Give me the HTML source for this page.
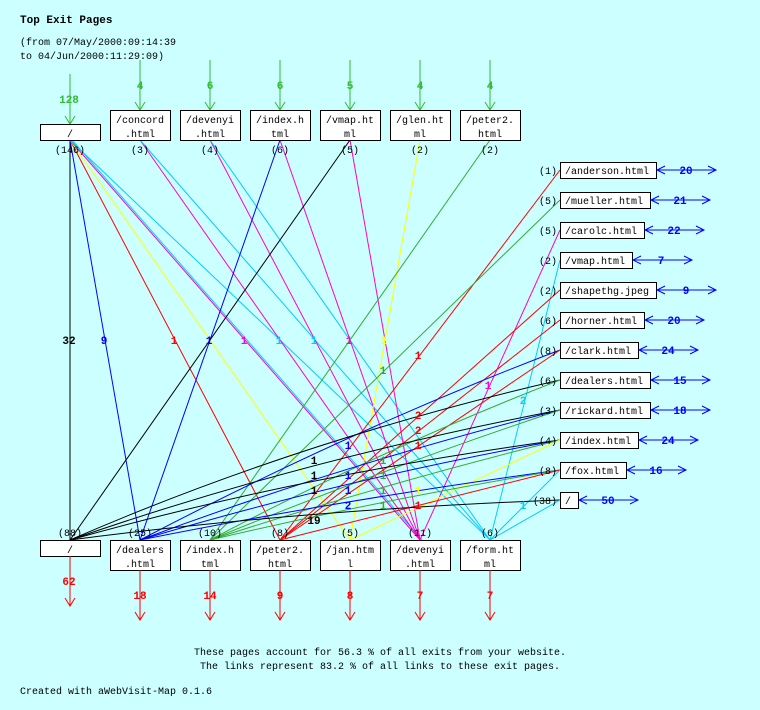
<!DOCTYPE html>
<html><head><meta charset="utf-8"><style>
html,body{margin:0;padding:0;background:#ccffff;}
svg{display:block;}
text{font-family:"Liberation Mono",monospace;font-size:10px;fill:#000;}
.b{font-weight:bold;font-size:11px;}
.t{font-weight:bold;font-size:11px;}
</style></head><body>
<svg width="760" height="710" viewBox="0 0 760 710" xmlns="http://www.w3.org/2000/svg">
<defs>
<marker id="ag" markerWidth="10" markerHeight="10" refX="5" refY="8" orient="auto" markerUnits="userSpaceOnUse"><path d="M0,0 L5,8 L10,0" fill="none" stroke="#33bb33"/></marker>
</defs>
<rect width="760" height="710" fill="#ccffff"/>
<text x="20" y="23" class="t">Top Exit Pages</text>
<text x="20" y="45">(from 07/May/2000:09:14:39</text>
<text x="20" y="59">to 04/Jun/2000:11:29:09)</text>

<!-- top entry arrows -->
<g stroke="#33bb33" fill="none">
<path d="M70,74V124M65,116L70,124L75,116"/>
<path d="M140,60V110M135,102L140,110L145,102"/>
<path d="M210,60V110M205,102L210,110L215,102"/>
<path d="M280,60V110M275,102L280,110L285,102"/>
<path d="M350,60V110M345,102L350,110L355,102"/>
<path d="M420,60V110M415,102L420,110L425,102"/>
<path d="M490,60V110M485,102L490,110L495,102"/>
</g>
<g class="b" fill="#33bb33" text-anchor="middle" font-weight="bold">
<text x="69" y="103" class="b" style="fill:#33bb33">128</text>
<text x="140" y="89" class="b" style="fill:#33bb33">4</text>
<text x="210" y="89" class="b" style="fill:#33bb33">6</text>
<text x="280" y="89" class="b" style="fill:#33bb33">6</text>
<text x="350" y="89" class="b" style="fill:#33bb33">5</text>
<text x="420" y="89" class="b" style="fill:#33bb33">4</text>
<text x="490" y="89" class="b" style="fill:#33bb33">4</text>
</g>

<!-- connector lines -->
<g fill="none" stroke-width="1">
<!-- from top / -->
<line x1="70" y1="140" x2="70" y2="540" stroke="#000"/>
<line x1="70" y1="140" x2="140" y2="540" stroke="#0000ff"/>
<line x1="70" y1="140" x2="280" y2="540" stroke="#ff0000"/>
<line x1="70" y1="140" x2="350" y2="540" stroke="#ffff00"/>
<line x1="70" y1="140" x2="420" y2="540" stroke="#ff00cc"/>
<line x1="70" y1="140" x2="420" y2="540" stroke="#00ccff" transform="translate(2,0)"/>
<line x1="70" y1="140" x2="490" y2="540" stroke="#00ccff"/>
<!-- concord -->
<line x1="140" y1="140" x2="420" y2="540" stroke="#ff00cc"/>
<line x1="140" y1="140" x2="490" y2="540" stroke="#00ccff"/>
<!-- devenyi -->
<line x1="210" y1="140" x2="420" y2="540" stroke="#ff00cc"/>
<line x1="210" y1="140" x2="490" y2="540" stroke="#00ccff"/>
<!-- index.h -->
<line x1="280" y1="140" x2="140" y2="540" stroke="#0000ff"/>
<line x1="280" y1="140" x2="420" y2="540" stroke="#ff00cc"/>
<!-- vmap -->
<line x1="350" y1="140" x2="70" y2="540" stroke="#000"/>
<line x1="350" y1="140" x2="420" y2="540" stroke="#ff00cc"/>
<!-- glen -->
<line x1="420" y1="140" x2="350" y2="540" stroke="#ffff00"/>
<!-- peter2 -->
<line x1="490" y1="140" x2="210" y2="540" stroke="#33aa33"/>
<!-- right nodes -->
<line x1="560" y1="170" x2="280" y2="540" stroke="#ff0000"/>
<line x1="560" y1="200" x2="210" y2="540" stroke="#33aa33"/>
<line x1="560" y1="230" x2="420" y2="540" stroke="#ff00cc"/>
<line x1="560" y1="260" x2="490" y2="540" stroke="#00ccff"/>
<line x1="560" y1="290" x2="280" y2="540" stroke="#ff0000"/>
<line x1="560" y1="320" x2="280" y2="540" stroke="#ff0000"/>
<path d="M560,350 Q350,430 140,540" stroke="#0000ff"/>
<line x1="560" y1="350" x2="280" y2="540" stroke="#ff0000"/>
<path d="M560,380 Q300,440 70,540" stroke="#000"/>
<path d="M560,380 Q380,450 210,540" stroke="#33aa33"/>
<path d="M560,410 Q300,460 70,540" stroke="#000"/>
<path d="M560,410 Q340,465 140,540" stroke="#0000ff"/>
<path d="M560,410 Q380,470 210,540" stroke="#33aa33"/>
<path d="M560,440 Q300,475 70,540" stroke="#000"/>
<path d="M560,440 Q340,480 140,540" stroke="#0000ff"/>
<path d="M560,440 Q380,485 210,540" stroke="#33aa33"/>
<line x1="560" y1="440" x2="350" y2="540" stroke="#ffff00"/>
<path d="M560,470 Q340,500 140,540" stroke="#0000ff"/>
<path d="M560,470 Q380,500 210,540" stroke="#33aa33"/>
<line x1="560" y1="470" x2="280" y2="540" stroke="#ff0000"/>
<line x1="560" y1="470" x2="490" y2="540" stroke="#00ccff"/>
<path d="M560,500 Q300,510 70,540" stroke="#000"/>
<line x1="560" y1="500" x2="490" y2="540" stroke="#00ccff"/>
</g>

<!-- link labels -->
<g text-anchor="middle">
<text x="69" y="344" class="b">32</text>
<text x="104" y="344" class="b" style="fill:#0000ff">9</text>
<text x="174" y="344" class="b" style="fill:#ff0000">1</text>
<text x="209" y="344" class="b" style="fill:#0000ff">1</text>
<text x="244" y="344" class="b" style="fill:#ff00cc">1</text>
<text x="279" y="344" class="b" style="fill:#00ccff">1</text>
<text x="314" y="344" class="b" style="fill:#00ccff">1</text>
<text x="349" y="344" class="b" style="fill:#ff00cc">1</text>
<text x="384" y="344" class="b" style="fill:#ffff00">1</text>
<text x="418" y="359" class="b" style="fill:#ff0000">1</text>
<text x="383" y="374" class="b" style="fill:#33aa33">1</text>
<text x="488" y="389" class="b" style="fill:#ff00cc">1</text>
<text x="523" y="404" class="b" style="fill:#00ccff">2</text>
<text x="418" y="419" class="b" style="fill:#ff0000">2</text>
<text x="418" y="434" class="b" style="fill:#ff0000">2</text>
<text x="348" y="449" class="b" style="fill:#0000ff">1</text>
<text x="418" y="449" class="b" style="fill:#ff0000">1</text>
<text x="314" y="464" class="b">1</text>
<text x="383" y="464" class="b" style="fill:#33aa33">1</text>
<text x="314" y="479" class="b">1</text>
<text x="348" y="479" class="b" style="fill:#0000ff">1</text>
<text x="383" y="479" class="b" style="fill:#33aa33">1</text>
<text x="314" y="494" class="b">1</text>
<text x="348" y="494" class="b" style="fill:#0000ff">1</text>
<text x="383" y="494" class="b" style="fill:#33aa33">1</text>
<text x="418" y="494" class="b" style="fill:#ffff00">1</text>
<text x="348" y="509" class="b" style="fill:#0000ff">2</text>
<text x="383" y="509" class="b" style="fill:#33aa33">1</text>
<text x="418" y="509" class="b" style="fill:#ff0000">1</text>
<text x="523" y="509" class="b" style="fill:#00ccff">1</text>
<text x="314" y="524" class="b">19</text>
</g>

<!-- top boxes -->
<g fill="#fff" stroke="#000">
<rect x="40.5" y="124.5" width="60" height="16"/>
<rect x="110.5" y="110.5" width="60" height="30"/>
<rect x="180.5" y="110.5" width="60" height="30"/>
<rect x="250.5" y="110.5" width="60" height="30"/>
<rect x="320.5" y="110.5" width="60" height="30"/>
<rect x="390.5" y="110.5" width="60" height="30"/>
<rect x="460.5" y="110.5" width="60" height="30"/>
</g>
<g text-anchor="middle">
<text x="70" y="137">/</text>
<text x="140" y="123">/concord</text><text x="140" y="137">.html</text>
<text x="210" y="123">/devenyi</text><text x="210" y="137">.html</text>
<text x="280" y="123">/index.h</text><text x="280" y="137">tml</text>
<text x="350" y="123">/vmap.ht</text><text x="350" y="137">ml</text>
<text x="420" y="123">/glen.ht</text><text x="420" y="137">ml</text>
<text x="490" y="123">/peter2.</text><text x="490" y="137">html</text>
<text x="70" y="153">(146)</text>
<text x="140" y="153">(3)</text>
<text x="210" y="153">(4)</text>
<text x="280" y="153">(6)</text>
<text x="350" y="153">(5)</text>
<text x="420" y="153">(2)</text>
<text x="490" y="153">(2)</text>
</g>

<!-- bottom boxes -->
<g fill="#fff" stroke="#000">
<rect x="40.5" y="540.5" width="60" height="16"/>
<rect x="110.5" y="540.5" width="60" height="30"/>
<rect x="180.5" y="540.5" width="60" height="30"/>
<rect x="250.5" y="540.5" width="60" height="30"/>
<rect x="320.5" y="540.5" width="60" height="30"/>
<rect x="390.5" y="540.5" width="60" height="30"/>
<rect x="460.5" y="540.5" width="60" height="30"/>
</g>
<g text-anchor="middle">
<text x="70" y="536">(88)</text>
<text x="140" y="536">(25)</text>
<text x="210" y="536">(10)</text>
<text x="280" y="536">(8)</text>
<text x="350" y="536">(5)</text>
<text x="420" y="536">(11)</text>
<text x="490" y="536">(6)</text>
<text x="70" y="553">/</text>
<text x="140" y="553">/dealers</text><text x="140" y="567">.html</text>
<text x="210" y="553">/index.h</text><text x="210" y="567">tml</text>
<text x="280" y="553">/peter2.</text><text x="280" y="567">html</text>
<text x="350" y="553">/jan.htm</text><text x="350" y="567">l</text>
<text x="420" y="553">/devenyi</text><text x="420" y="567">.html</text>
<text x="490" y="553">/form.ht</text><text x="490" y="567">ml</text>
</g>
<g stroke="#ff0000" fill="none">
<path d="M70,556V606M65,598L70,606L75,598"/>
<path d="M140,570V620M135,612L140,620L145,612"/>
<path d="M210,570V620M205,612L210,620L215,612"/>
<path d="M280,570V620M275,612L280,620L285,612"/>
<path d="M350,570V620M345,612L350,620L355,612"/>
<path d="M420,570V620M415,612L420,620L425,612"/>
<path d="M490,570V620M485,612L490,620L495,612"/>
</g>
<g text-anchor="middle">
<text x="69" y="585" class="b" style="fill:#ff0000">62</text>
<text x="140" y="599" class="b" style="fill:#ff0000">18</text>
<text x="210" y="599" class="b" style="fill:#ff0000">14</text>
<text x="280" y="599" class="b" style="fill:#ff0000">9</text>
<text x="350" y="599" class="b" style="fill:#ff0000">8</text>
<text x="420" y="599" class="b" style="fill:#ff0000">7</text>
<text x="490" y="599" class="b" style="fill:#ff0000">7</text>
</g>

<!-- right boxes -->
<g fill="#fff" stroke="#000">
<rect x="560.5" y="162.5" width="96" height="16"/>
<rect x="560.5" y="192.5" width="90" height="16"/>
<rect x="560.5" y="222.5" width="84" height="16"/>
<rect x="560.5" y="252.5" width="72" height="16"/>
<rect x="560.5" y="282.5" width="96" height="16"/>
<rect x="560.5" y="312.5" width="84" height="16"/>
<rect x="560.5" y="342.5" width="78" height="16"/>
<rect x="560.5" y="372.5" width="90" height="16"/>
<rect x="560.5" y="402.5" width="90" height="16"/>
<rect x="560.5" y="432.5" width="78" height="16"/>
<rect x="560.5" y="462.5" width="66" height="16"/>
<rect x="560.5" y="492.5" width="18" height="16"/>
</g>
<g>
<text x="565" y="174">/anderson.html</text>
<text x="565" y="204">/mueller.html</text>
<text x="565" y="234">/carolc.html</text>
<text x="565" y="264">/vmap.html</text>
<text x="565" y="294">/shapethg.jpeg</text>
<text x="565" y="324">/horner.html</text>
<text x="565" y="354">/clark.html</text>
<text x="565" y="384">/dealers.html</text>
<text x="565" y="414">/rickard.html</text>
<text x="565" y="444">/index.html</text>
<text x="565" y="474">/fox.html</text>
<text x="565" y="504">/</text>
</g>
<g text-anchor="end">
<text x="557" y="174">(1)</text>
<text x="557" y="204">(5)</text>
<text x="557" y="234">(5)</text>
<text x="557" y="264">(2)</text>
<text x="557" y="294">(2)</text>
<text x="557" y="324">(6)</text>
<text x="557" y="354">(8)</text>
<text x="557" y="384">(6)</text>
<text x="557" y="414">(3)</text>
<text x="557" y="444">(4)</text>
<text x="557" y="474">(8)</text>
<text x="557" y="504">(38)</text>
</g>
<g stroke="#0000ff" fill="none">
<path d="M657,170H716M665,166L657,170L665,174M708,166L716,170L708,174"/>
<path d="M651,200H710M659,196L651,200L659,204M702,196L710,200L702,204"/>
<path d="M645,230H704M653,226L645,230L653,234M696,226L704,230L696,234"/>
<path d="M633,260H692M641,256L633,260L641,264M684,256L692,260L684,264"/>
<path d="M657,290H716M665,286L657,290L665,294M708,286L716,290L708,294"/>
<path d="M645,320H704M653,316L645,320L653,324M696,316L704,320L696,324"/>
<path d="M639,350H698M647,346L639,350L647,354M690,346L698,350L690,354"/>
<path d="M651,380H710M659,376L651,380L659,384M702,376L710,380L702,384"/>
<path d="M651,410H710M659,406L651,410L659,414M702,406L710,410L702,414"/>
<path d="M639,440H698M647,436L639,440L647,444M690,436L698,440L690,444"/>
<path d="M627,470H686M635,466L627,470L635,474M678,466L686,470L678,474"/>
<path d="M579,500H638M587,496L579,500L587,504M630,496L638,500L630,504"/>
</g>
<g text-anchor="middle">
<text x="686" y="174" class="b" style="fill:#0000ff">20</text>
<text x="680" y="204" class="b" style="fill:#0000ff">21</text>
<text x="674" y="234" class="b" style="fill:#0000ff">22</text>
<text x="661" y="264" class="b" style="fill:#0000ff">7</text>
<text x="686" y="294" class="b" style="fill:#0000ff">9</text>
<text x="674" y="324" class="b" style="fill:#0000ff">20</text>
<text x="668" y="354" class="b" style="fill:#0000ff">24</text>
<text x="680" y="384" class="b" style="fill:#0000ff">15</text>
<text x="680" y="414" class="b" style="fill:#0000ff">18</text>
<text x="668" y="444" class="b" style="fill:#0000ff">24</text>
<text x="656" y="474" class="b" style="fill:#0000ff">16</text>
<text x="608" y="504" class="b" style="fill:#0000ff">50</text>
</g>

<text x="380" y="655" text-anchor="middle">These pages account for 56.3 % of all exits from your website.</text>
<text x="380" y="669" text-anchor="middle">The links represent 83.2 % of all links to these exit pages.</text>
<text x="20" y="694">Created with aWebVisit-Map 0.1.6</text>
</svg>
</body></html>
